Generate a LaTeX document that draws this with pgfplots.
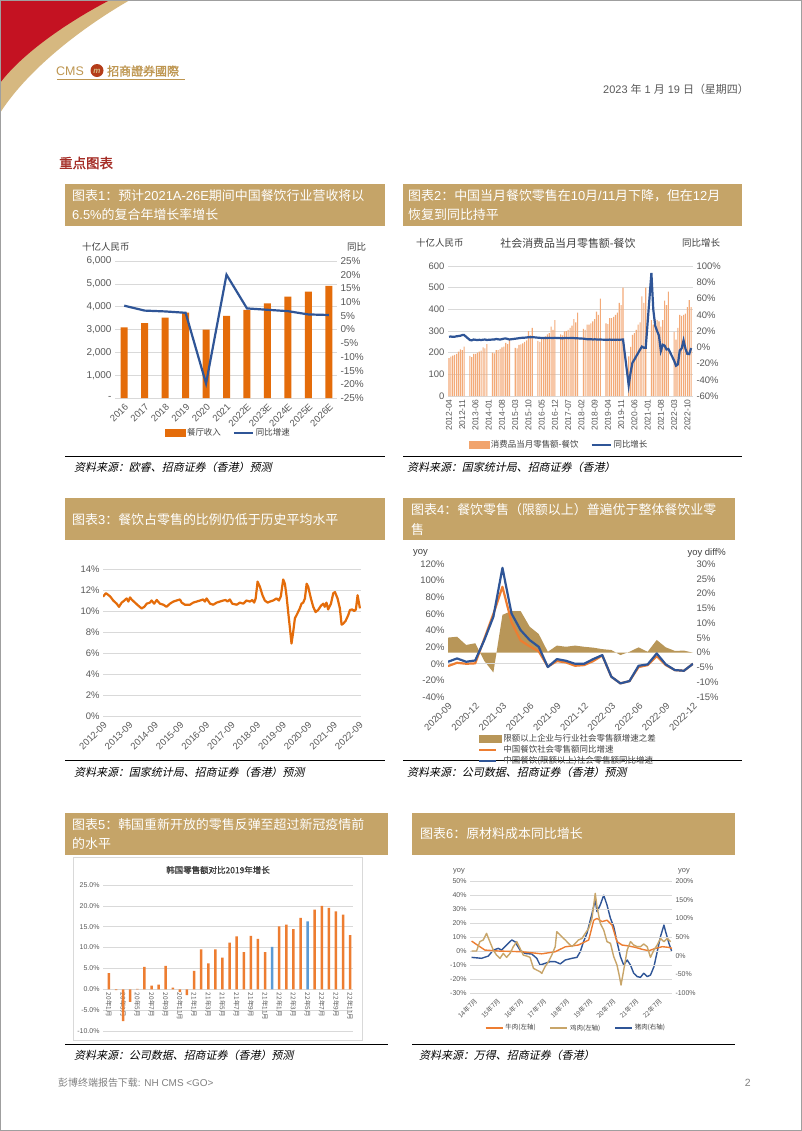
\documentclass[border=0pt]{standalone}
\usepackage{pgfplots}
\pgfplotsset{compat=1.18}
\usepackage{pgfplotstable}
\usepackage{fontspec}
\setmainfont{Liberation Sans}
\newfontfamily\cjk{Noto Sans CJK SC}
\newfontfamily\cjkit[FakeSlant=0.22]{Noto Sans CJK SC}
\newfontfamily\cjkb[FakeBold=1.5]{Noto Sans CJK SC}

\definecolor{banner}{RGB}{197,164,104}
\definecolor{cmsred}{RGB}{196,18,34}
\definecolor{cmsgold}{RGB}{214,184,128}
\definecolor{logogold}{RGB}{190,150,80}
\definecolor{logored}{RGB}{180,60,25}
\definecolor{ora}{RGB}{228,108,10}
\definecolor{ora2}{RGB}{237,125,49}
\definecolor{lora}{RGB}{243,170,120}
\definecolor{blu}{RGB}{47,85,151}
\definecolor{blu2}{RGB}{91,155,213}
\definecolor{agold}{RGB}{184,150,88}
\definecolor{tan}{RGB}{200,165,105}
\definecolor{tgray}{RGB}{89,89,89}
\definecolor{dgray}{RGB}{64,64,64}
\definecolor{ggray}{RGB}{217,217,217}
\definecolor{hred}{RGB}{165,45,38}

\pgfplotsset{
  every axis/.append style={
    scale only axis,
    /pgf/number format/assume math mode=true,
    axis line style={draw=none},
    tick style={draw=none},
    tick label style={text=tgray},
    grid style={ggray, line width=0.6bp},
    legend cell align=left,
  },
}

\pgfplotstableread{
idx val yoy
0 175 13.0
1 182 13.2
2 186 12.8
3 190 13.0
4 195 13.5
5 205 13.8
6 215 14.2
7 212 15.0
8 228 15.0
9 nan nan
10 nan nan
11 185 9.0
12 180 8.5
13 195 9.5
14 195 9.2
15 200 8.8
16 205 9.2
17 210 8.9
18 225 9.3
19 220 9.5
20 240 9.0
21 nan nan
22 nan nan
23 200 9.5
24 197 9.6
25 212 10.2
26 212 9.8
27 218 9.5
28 225 10.0
29 228 10.6
30 245 10.8
31 240 10.2
32 262 9.6
33 nan nan
34 nan nan
35 222 10.5
36 220 10.8
37 236 11.2
38 238 11.5
39 243 11.7
40 250 11.8
41 257 12.0
42 300 12.4
43 280 12.2
44 315 12.5
45 nan nan
46 nan nan
47 255 11.8
48 250 11.6
49 268 11.4
50 268 11.3
51 275 11.5
52 285 11.4
53 290 11.6
54 320 11.5
55 305 11.4
56 350 11.6
57 nan nan
58 nan nan
59 285 11.2
60 280 11.1
61 298 11.3
62 300 11.4
63 305 11.2
64 315 11.4
65 325 11.5
66 355 11.3
67 340 11.1
68 385 11.0
69 nan nan
70 nan nan
71 310 10.6
72 305 10.3
73 330 9.9
74 330 9.8
75 335 10.0
76 345 9.6
77 355 9.8
78 390 9.6
79 375 9.4
80 450 9.5
81 nan nan
82 nan nan
83 335 9.2
84 332 9.1
85 360 9.5
86 360 9.1
87 365 9.4
88 375 9.2
89 385 9.4
90 430 9.3
91 420 9.4
92 500 9.5
93 nan nan
94 nan nan
95 183 -46.8
96 227 -31.1
97 282 -18.9
98 290 -15.2
99 305 -11.0
100 330 -7.0
101 340 -2.9
102 460 0.8
103 430 -0.6
104 500 -0.6
105 nan nan
106 nan nan
107 350 91.6
108 330 46.4
109 355 26.6
110 350 20.0
111 345 14.3
112 320 -4.5
113 350 3.1
114 440 2.0
115 420 -2.7
116 482 -2.0
117 nan nan
118 nan nan
119 296 -16.4
120 260 -22.7
121 315 -21.1
122 375 -4.0
123 370 -1.5
124 375 8.4
125 380 -1.7
126 410 -8.1
127 443 -8.4
128 410 -1.0
}\dataB

\begin{document}
\begin{tikzpicture}[x=1bp,y=1bp]
\path[use as bounding box] (0,0) rectangle (802,-1131);
\fill[white] (0,0) rectangle (802,-1131);
% ---------- header ----------
\fill[cmsgold] (0,0) -- (130,0) .. controls (88,-24) and (30,-66) .. (0,-113) -- cycle;
\fill[cmsred] (0,0) -- (110,0) .. controls (75,-18) and (25,-50) .. (0,-83) -- cycle;
\node[anchor=west, text=logogold, font=\fontsize{12.5}{14}\selectfont, inner sep=0] at (56,-71) {CMS};
\fill[logored] (97,-70.5) circle (6.5);
\node[text=cmsgold, font=\fontsize{8}{9}\selectfont\itshape\bfseries, inner sep=0] at (97,-71) {m};
\node[anchor=west, text=logogold, font=\cjkb\fontsize{12}{14}\selectfont, inner sep=0] at (107,-71) {招商證券國際};
\draw[logogold, line width=0.6bp] (57,-79) -- (185,-79);
\node[anchor=east, text=tgray, font=\fontsize{11}{13}\selectfont, inner sep=0] at (749,-89) {2023 {\cjk 年} 1 {\cjk 月} 19 {\cjk 日（星期四）}};
\node[anchor=west, text=hred, font=\cjkb\fontsize{13.5}{15}\selectfont, inner sep=0] at (59,-163) {重点图表};
% ---------- banners ----------
\fill[banner] (65,-184) rectangle (385,-226);
\node[anchor=west, text=white, font=\fontsize{13}{15}\selectfont, inner sep=0] at (72,-196) {{\cjk 图表}1{\cjk ：预计}2021A-26E{\cjk 期间中国餐饮行业营收将以}};
\node[anchor=west, text=white, font=\fontsize{13}{15}\selectfont, inner sep=0] at (72,-215) {6.5\%{\cjk 的复合年增长率增长}};
\fill[banner] (403,-184) rectangle (742,-226);
\node[anchor=west, text=white, font=\fontsize{13}{15}\selectfont, inner sep=0] at (408,-196) {{\cjk 图表}2{\cjk ：中国当月餐饮零售在}10{\cjk 月}/11{\cjk 月下降，但在}12{\cjk 月}};
\node[anchor=west, text=white, font=\fontsize{13}{15}\selectfont, inner sep=0] at (408,-215) {{\cjk 恢复到同比持平}};
\fill[banner] (65,-498) rectangle (385,-540);
\node[anchor=west, text=white, font=\fontsize{13}{15}\selectfont, inner sep=0] at (72,-520) {{\cjk 图表}3{\cjk ：餐饮占零售的比例仍低于历史平均水平}};
\fill[banner] (403,-498) rectangle (735,-540);
\node[anchor=west, text=white, font=\fontsize{13}{15}\selectfont, inner sep=0] at (411,-510) {{\cjk 图表}4{\cjk ：餐饮零售（限额以上）普遍优于整体餐饮业零}};
\node[anchor=west, text=white, font=\fontsize{13}{15}\selectfont, inner sep=0] at (411,-530) {{\cjk 售}};
\fill[banner] (65,-813) rectangle (388,-855);
\node[anchor=west, text=white, font=\fontsize{13}{15}\selectfont, inner sep=0] at (72,-825) {{\cjk 图表}5{\cjk ：韩国重新开放的零售反弹至超过新冠疫情前}};
\node[anchor=west, text=white, font=\fontsize{13}{15}\selectfont, inner sep=0] at (72,-844) {{\cjk 的水平}};
\fill[banner] (412,-813) rectangle (735,-855);
\node[anchor=west, text=white, font=\fontsize{13}{15}\selectfont, inner sep=0] at (420,-834) {{\cjk 图表}6{\cjk ：原材料成本同比增长}};
% ---------- sources ----------
\draw[black, line width=0.9bp] (65,-456) -- (385,-456);
\node[anchor=west, font=\cjkit\fontsize{11}{13}\selectfont, inner sep=0] at (74,-467) {资料来源：欧睿、招商证券（香港）预测};
\draw[black, line width=0.9bp] (403,-456) -- (742,-456);
\node[anchor=west, font=\cjkit\fontsize{11}{13}\selectfont, inner sep=0] at (407,-467) {资料来源：国家统计局、招商证券（香港）};
\draw[black, line width=0.9bp] (65,-760) -- (385,-760);
\node[anchor=west, font=\cjkit\fontsize{11}{13}\selectfont, inner sep=0] at (74,-772) {资料来源：国家统计局、招商证券（香港）预测};
\draw[black, line width=0.9bp] (403,-760) -- (742,-760);
\node[anchor=west, font=\cjkit\fontsize{11}{13}\selectfont, inner sep=0] at (407,-772) {资料来源：公司数据、招商证券（香港）预测};
\draw[black, line width=0.9bp] (65,-1044) -- (388,-1044);
\node[anchor=west, font=\cjkit\fontsize{11}{13}\selectfont, inner sep=0] at (74,-1055) {资料来源：公司数据、招商证券（香港）预测};
\draw[black, line width=0.9bp] (412,-1044) -- (735,-1044);
\node[anchor=west, font=\cjkit\fontsize{11}{13}\selectfont, inner sep=0] at (419,-1055) {资料来源：万得、招商证券（香港）};
% ---------- footer ----------
\node[anchor=west, text=gray, font=\fontsize{10}{12}\selectfont, inner sep=0] at (58,-1083) {{\cjk 彭博终端报告下载}: NH CMS \textless GO\textgreater};
\node[anchor=east, text=gray, font=\fontsize{10.5}{12}\selectfont, inner sep=0] at (751,-1083) {2};

% ================= Chart 1 =================
\node[anchor=west, text=dgray, font=\cjk\fontsize{9.5}{11}\selectfont, inner sep=0] at (82,-247) {十亿人民币};
\node[anchor=west, text=dgray, font=\cjk\fontsize{9.5}{11}\selectfont, inner sep=0] at (347,-247) {同比};
\begin{axis}[at={(115bp,-398bp)}, anchor=south west, width=222bp, height=137bp,
  xmin=-0.45, xmax=10.4, ymin=0, ymax=6000,
  ytick={0,1000,...,6000}, yticklabels={-,{1,000},{2,000},{3,000},{4,000},{5,000},{6,000}},
  ymajorgrids,
  xtick={0,...,10}, xticklabels={2016,2017,2018,2019,2020,2021,2022E,2023E,2024E,2025E,2026E},
  x tick label style={rotate=45, anchor=north east, font=\fontsize{9.5}{10}\selectfont},
  y tick label style={font=\fontsize{10}{11}\selectfont},
  legend columns=2,
  legend style={at={(0.51,-0.255)}, anchor=center, draw=none, fill=none, inner sep=0pt,
    font=\cjk\fontsize{8.5}{10}\selectfont, text=dgray,
    /tikz/every even column/.append style={column sep=10bp}},
]
\addplot[ybar, bar width=7bp, fill=ora, draw=none, forget plot] coordinates {
(0,3090) (1,3280) (2,3520) (3,3740) (4,3000) (5,3600) (6,3860) (7,4150) (8,4440) (9,4660) (10,4910)};
\addlegendimage{legend image code/.code={\fill[ora] (0bp,-3.5bp) rectangle (20bp,3.5bp);}}
\addlegendentry{餐厅收入}
\addlegendimage{legend image code/.code={\draw[blu,line width=2bp] (0bp,0bp) -- (19bp,0bp);}}
\addlegendentry{同比增速}
\end{axis}
\begin{axis}[at={(115bp,-398bp)}, anchor=south west, width=222bp, height=137bp,
  xmin=-0.45, xmax=10.4, ymin=-25, ymax=25,
  ytick={-25,-20,...,25}, yticklabel={\pgfmathprintnumber{\tick}\%}, yticklabel pos=right,
  xtick=\empty,
  y tick label style={font=\fontsize{10}{11}\selectfont},
]
\addplot[blu, line width=2.2bp] coordinates {
(0,8.7) (1,6.9) (2,6.6) (3,6.1) (4,-19.7) (5,20.0) (6,7.7) (7,7.2) (8,6.7) (9,5.5) (10,5.3)};
\end{axis}

% ================= Chart 2 =================
\node[anchor=west, text=dgray, font=\cjk\fontsize{9.5}{11}\selectfont, inner sep=0] at (416,-243) {十亿人民币};
\node[text=dgray, font=\cjk\fontsize{11}{13}\selectfont, inner sep=0] at (568,-243) {社会消费品当月零售额-餐饮};
\node[anchor=west, text=dgray, font=\cjk\fontsize{9.5}{11}\selectfont, inner sep=0] at (682,-243) {同比增长};
\begin{axis}[at={(448bp,-396bp)}, anchor=south west, width=245bp, height=130bp,
  xmin=-0.53, xmax=129, ymin=0, ymax=600,
  ytick={0,100,...,600}, ymajorgrids,
  xtick={0,7,...,126},
  xticklabels={2012-04,2012-11,2013-06,2014-01,2014-08,2015-03,2015-10,2016-05,2016-12,2017-07,2018-02,2018-09,2019-04,2019-11,2020-06,2021-01,2021-08,2022-03,2022-10},
  x tick label style={rotate=90, anchor=east, font=\fontsize{8.5}{9}\selectfont},
  y tick label style={font=\fontsize{9.5}{11}\selectfont},
  legend columns=2,
  legend style={at={(0.453,-0.377)}, anchor=center, draw=none, fill=none, inner sep=0pt,
    font=\cjk\fontsize{8.5}{10}\selectfont, text=dgray,
    /tikz/every even column/.append style={column sep=10bp}},
]
\addplot[ybar, bar width=1.1bp, fill=lora, draw=none, forget plot] table[x=idx, y=val] {\dataB};
\addlegendimage{legend image code/.code={\fill[lora!90!ora] (0bp,-3.5bp) rectangle (20bp,3.5bp);}}
\addlegendentry{消费品当月零售额-餐饮}
\addlegendimage{legend image code/.code={\draw[blu,line width=2bp] (0bp,0bp) -- (19bp,0bp);}}
\addlegendentry{同比增长}
\end{axis}
\begin{axis}[at={(448bp,-396bp)}, anchor=south west, width=245bp, height=130bp,
  xmin=-0.53, xmax=129, ymin=-60, ymax=100,
  ytick={-60,-40,...,100}, yticklabel={\pgfmathprintnumber{\tick}\%}, yticklabel pos=right,
  xtick=\empty,
  y tick label style={font=\fontsize{9.5}{11}\selectfont},
]
\addplot[blu, line width=2.2bp] table[x=idx, y=yoy] {\dataB};
\end{axis}

% ================= Chart 3 =================
\begin{axis}[at={(103bp,-716bp)}, anchor=south west, width=258bp, height=147bp,
  xmin=0, xmax=121, ymin=0, ymax=14,
  ytick={0,2,...,14}, yticklabel={\pgfmathprintnumber{\tick}\%}, ymajorgrids,
  xtick={0,12,...,120},
  xticklabels={2012-09,2013-09,2014-09,2015-09,2016-09,2017-09,2018-09,2019-09,2020-09,2021-09,2022-09},
  x tick label style={rotate=45, anchor=north east, font=\fontsize{9.5}{10}\selectfont},
  y tick label style={font=\fontsize{9.5}{11}\selectfont},
]
\addplot[ora, line width=2.2bp, line join=round] coordinates {
(0,11.37) (1.4,11.7) (3.3,11.4) (4.8,11.0) (6.4,10.7) (7.5,10.4) (8.75,10.8) (10,11.0) (11.1,11.2) (11.9,10.9) (12.7,11.3) (13.4,11.1) (15,10.8) (16.6,10.5) (18.1,10.25) (19.4,10.4) (20.5,10.7) (22,10.8) (22.8,11.0) (24,10.7) (25.2,11.05) (26.7,10.7) (28.3,10.6) (29.8,10.4) (31.4,10.7) (33,10.9) (34.5,11.0) (36.1,11.1) (36.9,10.8) (38.4,10.6) (40.8,10.6) (42.3,10.8) (43.9,10.9) (45.5,11.0) (47,11.1) (47.8,10.9) (48.6,11.2) (50.2,10.7) (51.7,10.6) (53.3,10.8) (54.8,10.9) (56.4,11.0) (57.5,11.05) (58.4,10.9) (59.5,11.1) (60.6,10.7) (62.7,10.6) (64.2,10.8) (65.8,10.7) (67.3,11.0) (68.9,10.9) (70,11.05) (70.9,10.8) (71.6,11.2) (72.5,12.8) (73.6,12.3) (74.8,11.5) (75.9,11.0) (77.2,10.8) (78.3,10.9) (79.8,11.0) (81.4,11.2) (82.5,11.0) (83.4,11.4) (84.5,13.0) (85.3,12.6) (86.1,11.4) (86.9,9.8) (87.7,8.3) (88.4,6.9) (89.2,8.0) (90,9.3) (91.25,9.8) (92.3,10.25) (93.1,10.7) (93.9,10.8) (94.7,11.2) (95.5,12.6) (96.25,12.3) (97.5,11.2) (98.6,10.4) (99.7,9.9) (100.9,10.1) (102.2,10.5) (103.3,10.7) (104,10.4) (104.8,10.8) (105.6,10.15) (106.9,10.7) (108,11.7) (108.8,11.8) (110,11.2) (111.1,10.25) (111.9,8.7) (112.7,8.8) (113.75,9.05) (115,9.6) (115.8,10.1) (116.9,10.15) (117.8,10.0) (118.6,10.15) (119.4,11.5) (120.5,10.25)};
\end{axis}

% ================= Chart 4 =================
\node[anchor=west, text=dgray, font=\fontsize{9.5}{11}\selectfont, inner sep=0] at (413,-553) {yoy};
\node[anchor=east, text=dgray, font=\fontsize{9.5}{11}\selectfont, inner sep=0] at (726,-553) {yoy diff\%};
\begin{axis}[at={(448bp,-697bp)}, anchor=south west, width=245bp, height=133bp,
  xmin=0, xmax=27, ymin=-15, ymax=30,
  ytick={-15,-10,...,30}, yticklabel={\pgfmathprintnumber{\tick}\%}, yticklabel pos=right,
  xtick=\empty,
  y tick label style={font=\fontsize{9.5}{11}\selectfont},
]
\addplot[fill=agold, draw=none] coordinates {
(0,5.1) (1,5.4) (2,2.6) (3,3.2) (4,-2.8) (5,-6.7) (6,12.8) (7,14.1) (8,14.1) (9,8.8) (10,6.3) (11,0.3) (12,2.4) (13,2.0) (14,2.4) (15,2.0) (16,1.7) (17,1.2) (18,0.9) (19,-0.8) (20,0.3) (21,1.8) (22,0.3) (23,4.3) (24,1.8) (25,0.6) (26,0.7) (27,0)} \closedcycle;
\end{axis}
\begin{axis}[at={(448bp,-697bp)}, anchor=south west, width=245bp, height=133bp,
  xmin=0, xmax=27, ymin=-40, ymax=120,
  ytick={-40,-20,...,120}, yticklabel={\pgfmathprintnumber{\tick}\%},
  extra y ticks={0}, extra y tick labels={}, extra y tick style={ymajorgrids},
  xtick={0,3,...,27},
  xticklabels={2020-09,2020-12,2021-03,2021-06,2021-09,2021-12,2022-03,2022-06,2022-09,2022-12},
  x tick label style={rotate=45, anchor=north east, font=\fontsize{9.5}{10}\selectfont},
  y tick label style={font=\fontsize{9.5}{11}\selectfont},
  legend style={at={(0.122,-0.398)}, anchor=west, draw=none, fill=none, inner sep=0pt,
    font=\cjk\fontsize{8.5}{9.5}\selectfont, text=dgray, row sep=-1.5bp},
]
\addlegendimage{legend image code/.code={\fill[agold] (0bp,-3.3bp) rectangle (22bp,3.3bp);}}
\addlegendentry{限额以上企业与行业社会零售额增速之差}
\addplot[ora2, line width=2.2bp, line join=round] coordinates {
(0,-2.8) (1,1.2) (2,0) (3,0.5) (4,30) (5,60) (6,92.6) (7,50) (8,28) (9,21) (10,15) (11,-3.5) (12,3.2) (13,1.6) (14,-2.4) (15,-1.6) (16,3.2) (17,10) (18,-15.6) (19,-23.6) (20,-20.8) (21,-4) (22,-1.6) (23,9.2) (24,-1.6) (25,-7.6) (26,-8.4) (27,0)};
\addlegendentry{中国餐饮社会零售额同比增速}
\addplot[blu, line width=2.2bp, line join=round] coordinates {
(0,2.4) (1,6.4) (2,2.4) (3,4) (4,28.5) (5,56.5) (6,115.4) (7,60.5) (8,40.5) (9,28.5) (10,20.4) (11,-4) (12,5.6) (13,3.6) (14,0) (15,0) (16,5.6) (17,10.4) (18,-15.6) (19,-23.6) (20,-20.8) (21,-2.4) (22,-0.8) (23,12.4) (24,-0.8) (25,-7.6) (26,-8.4) (27,0)};
\addlegendentry{中国餐饮(限额以上)社会零售额同比增速}
\end{axis}

% ================= Chart 5 =================
\draw[ggray, line width=0.8bp, fill=white] (73,-857) rectangle (362,-1040);
\node[text=dgray, font=\cjkb\fontsize{8.5}{10}\selectfont, inner sep=0] at (218,-870) {韩国零售额对比2019年增长};
\begin{axis}[at={(103bp,-1031bp)}, anchor=south west, width=250bp, height=146bp,
  xmin=-0.84, xmax=34.4, ymin=-10, ymax=25,
  ytick={-10,-5,...,25}, yticklabel={\pgfmathprintnumber[fixed,fixed zerofill,precision=1]{\tick}\%}, ymajorgrids,
  axis x line*=middle, axis y line*=left,
  xtick={0,2,...,34},
  xticklabels={20年1月,20年3月,20年5月,20年7月,20年9月,20年11月,21年1月,21年3月,21年5月,21年7月,21年9月,21年11月,22年1月,22年3月,22年5月,22年7月,22年9月,22年11月},
  x tick label style={rotate=-90, anchor=west, font=\cjk\fontsize{6.5}{7}\selectfont},
  y tick label style={font=\fontsize{7}{8}\selectfont},
]
\addplot[ybar, bar width=2.5bp, bar shift=0pt, fill=ora2, draw=none] coordinates {
(0,3.9) (1,-0.2) (2,-7.6) (3,-3.0) (4,0.1) (5,5.4) (6,0.9) (7,1.1) (8,5.6) (9,0.4) (10,-0.7) (11,-1.4) (12,4.4) (13,9.6) (14,6.2) (15,9.6) (16,7.6) (17,11.2) (18,12.7) (19,8.9) (20,12.8) (21,12.1) (22,8.9) (24,15.1) (25,15.5) (26,14.4) (27,17.1) (29,19.1) (30,20.0) (31,19.5) (32,18.7) (33,17.9) (34,13.0)};
\addplot[ybar, bar width=2.5bp, bar shift=0pt, fill=blu2, draw=none] coordinates {(23,10.2) (28,16.3)};
\end{axis}

% ================= Chart 6 =================
\node[anchor=west, text=tgray, font=\fontsize{7.5}{9}\selectfont, inner sep=0] at (453,-871) {yoy};
\node[anchor=west, text=tgray, font=\fontsize{7.5}{9}\selectfont, inner sep=0] at (678,-871) {yoy};
\begin{axis}[at={(470bp,-993bp)}, anchor=south west, width=202bp, height=112bp,
  xmin=-2, xmax=103, ymin=-100, ymax=200,
  ytick={-100,-50,...,200}, yticklabel={\pgfmathprintnumber{\tick}\%}, yticklabel pos=right,
  xtick=\empty,
  y tick label style={font=\fontsize{7}{8}\selectfont},
]
\addplot[blu, line width=1.4bp, line join=round] coordinates {
(-1.2,-4.5) (4,-7) (7.5,-1) (10.1,15) (12.7,19.6) (14.4,15) (17,28.6) (19.7,42) (21.4,37.5) (24,15) (26.6,6) (30.1,4.5) (32.7,-7) (34.4,-25) (37,-20.5) (39.7,-16) (42.3,-16) (44.9,-22) (47.5,-11.6) (51,-7) (53.6,-4.5) (55.3,10.7) (57,37.5) (58.8,60) (61.4,113) (63.1,149) (64,118) (65.7,136) (67.5,162) (69.2,136) (71,100) (72.7,78) (74.4,37.5) (76.2,-2.7) (77.9,-25) (79.7,-11.6) (81.4,-25) (83.1,-47) (84.9,-56) (86.6,-58) (88.3,-47) (90.1,-56) (91.8,-52) (93.6,-29.5) (95.3,10.7) (97,51) (98.8,82) (99.7,64) (101.4,33) (102.8,12.5)};
\end{axis}
\begin{axis}[at={(470bp,-993bp)}, anchor=south west, width=202bp, height=112bp,
  xmin=-2, xmax=103, ymin=-30, ymax=50,
  ytick={-30,-20,...,50}, yticklabel={\pgfmathprintnumber{\tick}\%}, ymajorgrids,
  xtick={0,12,...,96},
  xticklabels={14年7月,15年7月,16年7月,17年7月,18年7月,19年7月,20年7月,21年7月,22年7月},
  x tick label style={rotate=45, anchor=north east, font=\cjk\fontsize{6.5}{7}\selectfont},
  y tick label style={font=\fontsize{7}{8}\selectfont},
  legend columns=3,
  legend style={at={(0.525,-0.3125)}, anchor=center, draw=none, fill=none, inner sep=0pt,
    font=\cjk\fontsize{6.5}{8}\selectfont, text=dgray,
    /tikz/every even column/.append style={column sep=12bp}},
]
\addplot[ora2, line width=1.4bp, line join=round] coordinates {
(-1.2,7.1) (5.7,0.7) (12.7,0) (24.9,-0.5) (35.3,-2) (42.3,-0.5) (47.5,3) (54.4,4.3) (59.7,7.9) (62.3,22) (64,23.3) (66.6,21) (69.2,22) (71.8,18.6) (74.4,6.7) (77,4.3) (80.5,3.6) (84,2.6) (87.5,1.2) (91,0.2) (94.4,1.9) (97.9,3.1) (101.4,2.6) (103,1.9)};
\addlegendentry{牛肉(左轴)}
\addplot[tan, line width=1.4bp, line join=round] coordinates {
(-1.2,0) (1.4,0) (3.1,6.7) (4.9,7.9) (6.6,12.6) (8.3,6.7) (10.1,0.7) (11.8,-2.9) (13.6,-5.2) (15.3,-1.7) (17,-4.5) (18.8,-1.7) (20.5,3.1) (22.3,6.7) (24,1.9) (25.7,-2.9) (27.5,-3.6) (29.2,-4.5) (31,-12.4) (32.7,-13.6) (34.4,-14.8) (35.3,-16) (37,-11.2) (38.8,-7.6) (40.5,-2.9) (42.3,3.1) (43.1,13.8) (44.9,11.4) (46.6,9) (47.5,7.9) (49.2,5.5) (51,3.1) (52.7,5.5) (54.4,7.9) (56.2,9) (57.9,12.6) (59.7,16.2) (61.4,23.3) (63.1,41.2) (64,31.7) (65.7,19.8) (67.5,15) (69.2,6.7) (71,5.5) (72.7,-4) (74.4,-10) (75.7,-18.3) (76.5,-24.3) (77.9,-13.6) (79.7,0.7) (81.4,6.7) (83.1,4.3) (84.9,3.1) (86.6,3.1) (88.3,5) (90.1,3.1) (91.8,-4.5) (93.6,0.7) (95.3,4.3) (97,9) (98.8,6.7) (100.5,9) (102.3,6.7)};
\addlegendentry{鸡肉(左轴)}
\addlegendimage{blu, line width=1.4bp}
\addlegendentry{猪肉(右轴)}
\end{axis}

\draw[gray!75, line width=1.2bp] (0.6,-0.6) rectangle (801.4,-1130.4);
\end{tikzpicture}
\end{document}
